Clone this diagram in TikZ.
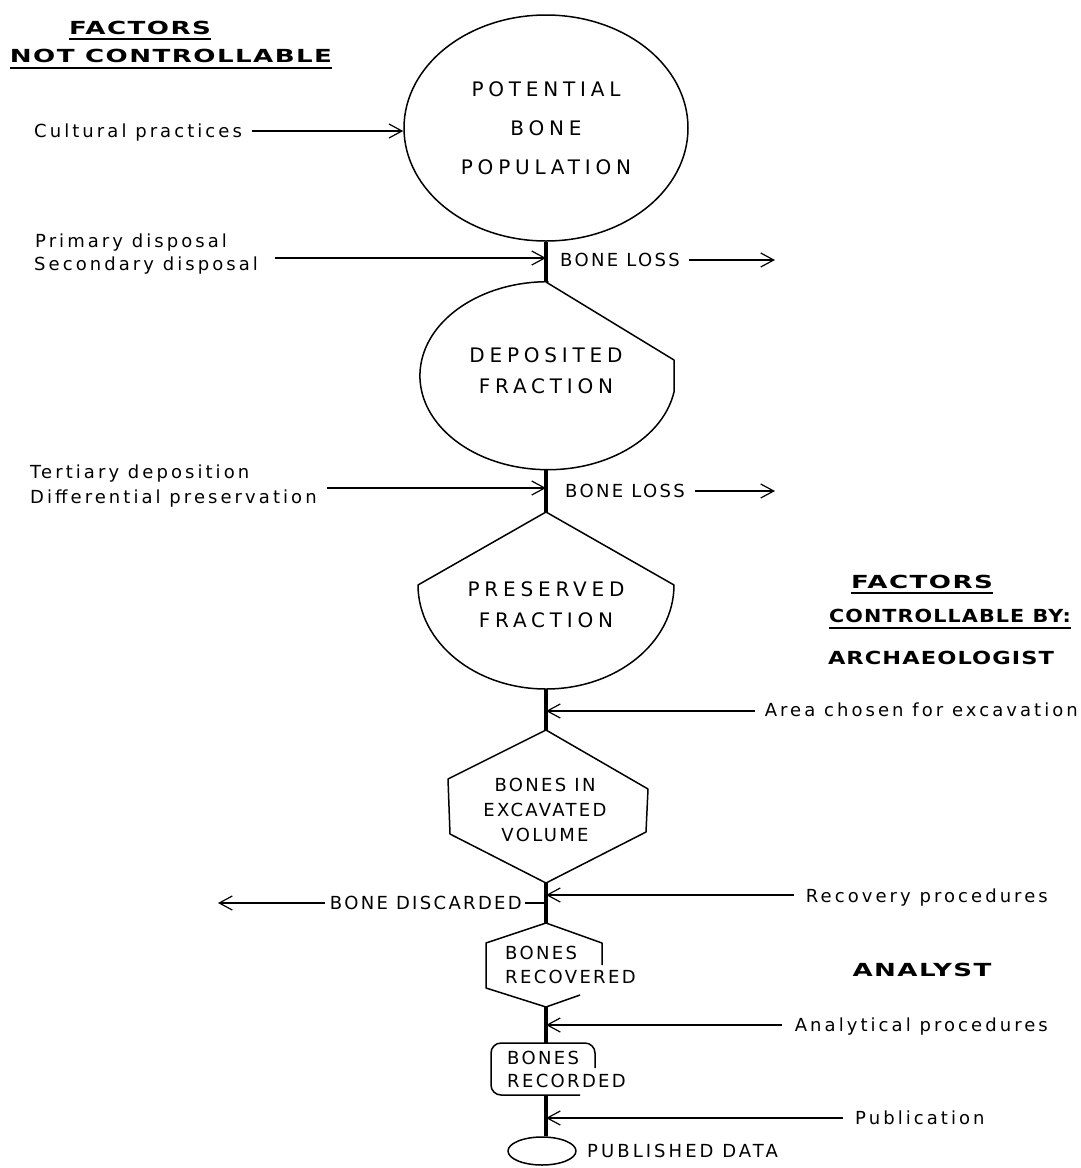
\documentclass[tikz,border=0pt]{standalone}
\usepackage{fontspec}
\setmainfont{DejaVu Sans}
\newfontfamily\fLow[LetterSpace=17]{DejaVu Sans}
\newfontfamily\fCap[LetterSpace=13]{DejaVu Sans}
\newfontfamily\fBig[LetterSpace=24]{DejaVu Sans}
\newfontfamily\fHead[FakeStretch=1.45,LetterSpace=8]{DejaVu Sans}
\newfontfamily\fSub[FakeStretch=1.15,LetterSpace=6]{DejaVu Sans}
\newfontfamily\fArch[FakeStretch=1.25,LetterSpace=6]{DejaVu Sans}
\usetikzlibrary{shapes.geometric, arrows.meta, positioning}
\tikzset{
  lowlbl/.style={font=\fLow\fontsize{18}{24}\selectfont, inner sep=0pt, text height=13pt, text depth=0pt},
  caplbl/.style={font=\fCap\fontsize{18}{24}\selectfont, inner sep=0pt, text height=13pt, text depth=0pt},
  head/.style={font=\fHead\bfseries\fontsize{18}{24}\selectfont, inner sep=0pt, text height=13pt, text depth=0pt},
  subhead/.style={font=\fSub\bfseries\fontsize{18}{24}\selectfont, inner sep=0pt, text height=13pt, text depth=0pt},
  archhead/.style={font=\fArch\bfseries\fontsize{18}{24}\selectfont, inner sep=0pt, text height=13pt, text depth=0pt},
  bigtxt/.style={font=\fBig\fontsize{20}{#1}\selectfont, align=center, inner sep=0pt},
  bigtxt/.default=31,
  smtxt/.style={font=\fCap\fontsize{18}{#1}\selectfont, inner sep=0pt},
  smtxt/.default=24,
  outline/.style={line width=1.5pt, line join=round},
  spine/.style={line width=4pt},
  feed/.style={line width=1.2pt, -{Straight Barb[length=13pt, width=14pt]}},
  uline/.style={line width=1.6pt},
}
\begin{document}
\begin{tikzpicture}[x=1pt, y=-1pt]
  \useasboundingbox (0,0) rectangle (1080,1168);

  % Points on the spine
  \coordinate (dep-t) at (546,282);
  \coordinate (dep-b) at (546,470);
  \coordinate (pre-t) at (546,512);
  \coordinate (pre-b) at (546,689);
  \coordinate (exc-t) at (546,730);
  \coordinate (exc-b) at (546,883);
  \coordinate (rcv-t) at (546,923);
  \coordinate (rcv-b) at (546,1007);
  \coordinate (rec-t) at (546,1043);
  \coordinate (rec-b) at (546,1095);

  % Headings
  \node[head] (hl1) at (140,28) {FACTORS};
  \node[head] (hl2) at (171,56) {NOT CONTROLLABLE};
  \draw[uline] ([yshift=-4pt]hl1.south west) -- ([yshift=-4pt]hl1.south east);
  \draw[uline] ([yshift=-5pt]hl2.south west) -- ([yshift=-5pt]hl2.south east);

  \node[head] (hr1) at (922,582) {FACTORS};
  \node[subhead] (hr2) at (950,616) {CONTROLLABLE BY:};
  \node[archhead] (hr3) at (941,658) {ARCHAEOLOGIST};
  \draw[uline] ([yshift=-4pt]hr1.south west) -- ([yshift=-4pt]hr1.south east);
  \draw[uline] ([yshift=-5pt]hr2.south west) -- ([yshift=-5pt]hr2.south east);
  \node[head] (ana) at (922,970) {ANALYST};

  % Shapes
  \node[ellipse, draw, outline, minimum width=284pt, minimum height=226pt, inner sep=0pt, bigtxt=39] (pop) at (546,128) {POTENTIAL\\BONE\\POPULATION};

  \draw[outline] (dep-t) -- (674,360) -- (674,392) arc[start angle=10, end angle=270, x radius=128, y radius=94] -- cycle;
  \node[bigtxt] (dep) at (546,371) {DEPOSITED\\FRACTION};

  \draw[outline] (pre-t) -- (674,585) arc[start angle=0, end angle=180, x radius=128, y radius=104] -- cycle;
  \node[bigtxt] (pre) at (546,605) {PRESERVED\\FRACTION};

  \draw[outline] (exc-t) -- (448,779) -- (450,834) -- (exc-b) -- (646,832) -- (648,789) -- cycle;
  \node[smtxt=25, align=center] (exc) at (545,810) {BONES IN\\EXCAVATED\\VOLUME};

  \draw[outline] (602,965) -- (602,943) -- (rcv-t) -- (486,943) -- (486,988) -- (rcv-b) -- (580,995);
  \node[smtxt=24, align=left, anchor=west] (rcv) at (505,965) {BONES\\RECOVERED};

  \draw[outline, rounded corners=10pt] (595,1068) -- (595,1043) -- (491,1043) -- (491,1095) -- (580,1095);
  \node[smtxt=23, align=left, anchor=west] (rec) at (507,1069) {BONES\\RECORDED};

  \node[ellipse, draw, outline, minimum width=68pt, minimum height=28pt, inner sep=0pt] (pub) at (542,1151) {};
  \node[lowlbl, anchor=west] (pubd) at (587,1151) {PUBLISHED DATA};

  % Spine
  \draw[spine] (pop.south) -- (dep-t);
  \draw[spine] (dep-b) -- (pre-t);
  \draw[spine] (pre-b) -- (exc-t);
  \draw[spine] (exc-b) -- (rcv-t);
  \draw[spine] (rcv-b) -- (rec-t);
  \draw[spine] (rec-b) -- (pub.north -| rec-b);

  % Factors not controllable
  \node[lowlbl, anchor=west] (cult) at (34,131) {Cultural practices};
  \draw[feed] (cult.east) ++(10,0) -- (pop.west |- cult.east);

  \node[lowlbl, anchor=west] (prim) at (35,241) {Primary disposal};
  \node[lowlbl, anchor=west] (sec) at (34,264) {Secondary disposal};
  \coordinate (j1) at (546,258);
  \draw[feed] (sec.east) ++(17,-6) -- (j1);
  \node[caplbl, anchor=west] (loss1) at (560,260) {BONE LOSS};
  \coordinate (out1) at (775,260);
  \draw[feed] (loss1.east) ++(9,0) -- (out1);

  \node[lowlbl, anchor=west] (tert) at (30,472) {Tertiary deposition};
  \node[lowlbl, anchor=west] (diff) at (30,497) {Differential preservation};
  \coordinate (j2) at (546,488);
  \draw[feed] (diff.east) ++(10,-9) -- (j2);
  \node[caplbl, anchor=west] (loss2) at (565,491) {BONE LOSS};
  \coordinate (out2) at (775,491);
  \draw[feed] (loss2.east) ++(10,0) -- (out2);

  % Factors controllable
  \node[lowlbl, anchor=east] (area) at (1078,710) {Area chosen for excavation};
  \coordinate (j3) at (546,711);
  \draw[feed] (area.west) ++(-10,1) -- (j3);

  \node[lowlbl, anchor=east] (recp) at (1048,896) {Recovery procedures};
  \coordinate (j4) at (546,895);
  \draw[feed] (recp.west) ++(-12,-1) -- (j4);

  \node[caplbl, anchor=east] (disc) at (522,903) {BONE DISCARDED};
  \coordinate (j5) at (546,903);
  \coordinate (out3) at (218,903);
  \draw[line width=1.2pt] (disc.east) ++(3,0) -- (j5);
  \draw[feed] (disc.west) ++(-5,0) -- (out3);

  \node[lowlbl, anchor=east] (anap) at (1048,1025) {Analytical procedures};
  \coordinate (j6) at (546,1025);
  \draw[feed] (anap.west) ++(-13,0) -- (j6);

  \node[lowlbl, anchor=west] (publ) at (855,1118) {Publication};
  \coordinate (j7) at (546,1118);
  \draw[feed] (publ.west) ++(-12,0) -- (j7);
\end{tikzpicture}
\end{document}
